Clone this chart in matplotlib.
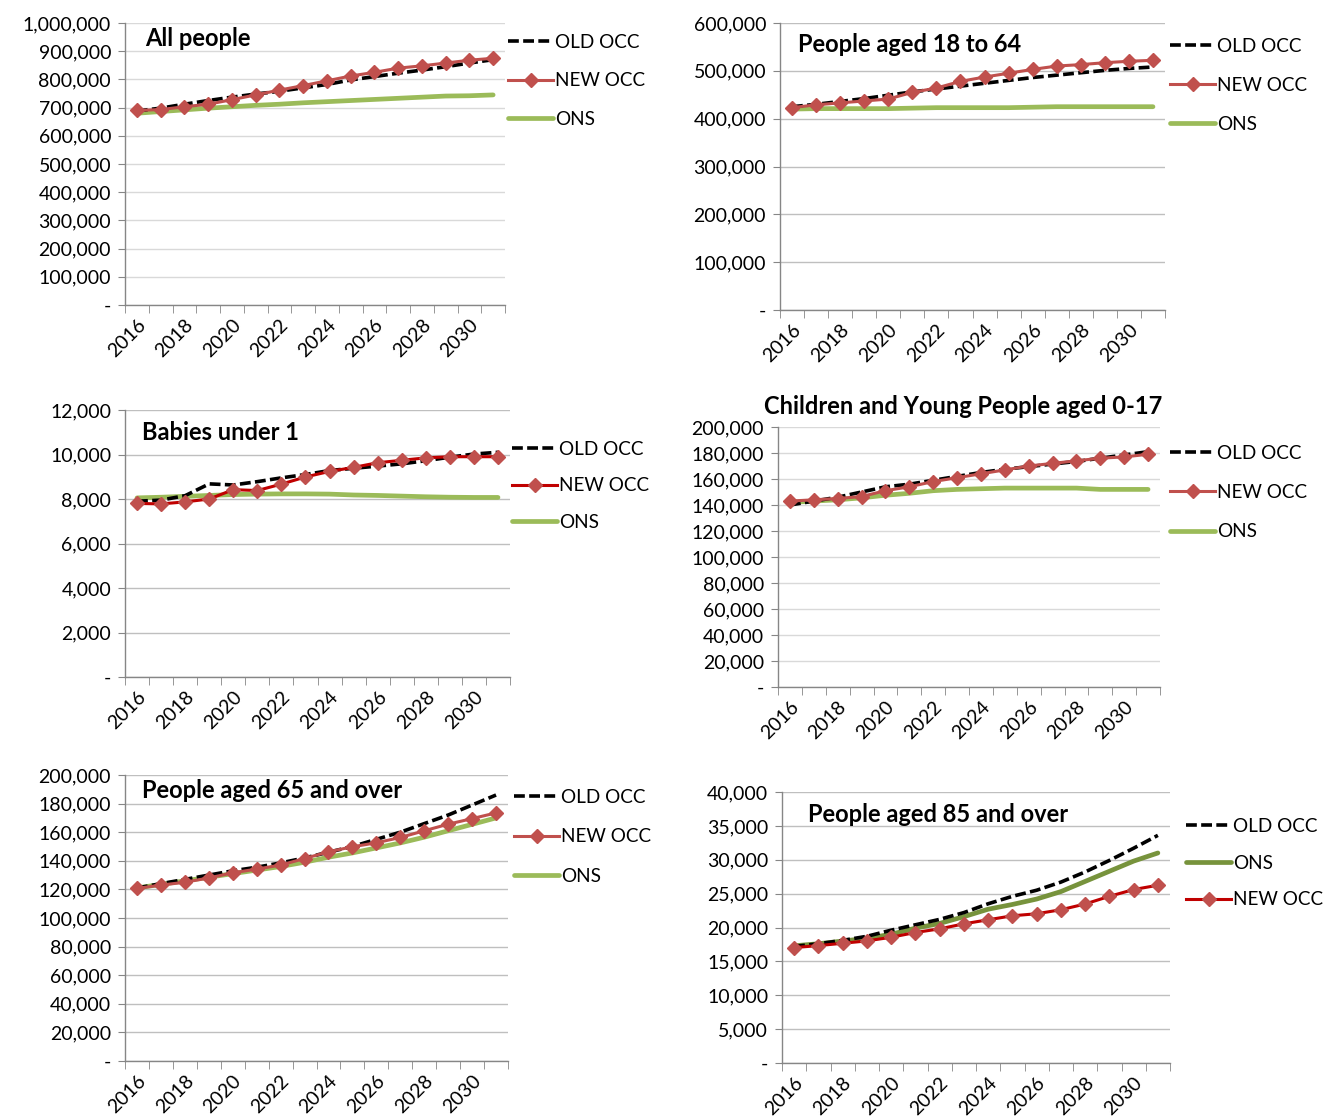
import matplotlib
matplotlib.use("Agg")
import matplotlib.pyplot as plt
from matplotlib.ticker import FuncFormatter, MultipleLocator
import numpy as np

plt.rcParams['font.family'] = ['Lato', 'DejaVu Sans']

years = list(range(2016, 2032))

# All people
all_old = [688, 698, 712, 725, 737, 748, 758, 770, 782, 798, 810, 822, 833, 845, 858, 870]
all_new = [690, 693, 703, 712, 728, 745, 762, 778, 795, 812, 825, 840, 848, 858, 868, 875]
all_ons = [680, 686, 692, 698, 703, 708, 712, 717, 721, 725, 729, 733, 737, 741, 742, 745]

# People aged 18 to 64
adult_old = [425, 430, 436, 442, 449, 456, 462, 468, 474, 480, 486, 491, 496, 501, 505, 508]
adult_new = [423, 429, 433, 437, 441, 455, 464, 478, 487, 495, 503, 510, 513, 517, 520, 522]
adult_ons = [420, 421, 421, 421, 421, 422, 423, 423, 423, 423, 424, 425, 425, 425, 425, 425]

# Babies under 1
baby_old = [7900, 7950, 8150, 8680, 8630, 8780, 8950, 9100, 9280, 9380, 9480, 9580, 9720, 9880, 10020, 10100]
baby_new = [7800, 7780, 7870, 8000, 8420, 8380, 8670, 8990, 9240, 9420, 9630, 9740, 9850, 9900, 9900, 9900]
baby_ons = [8050, 8080, 8120, 8160, 8200, 8220, 8230, 8230, 8220, 8180, 8160, 8130, 8100, 8080, 8070, 8070]

# Children and young people aged 0-17
child_old = [140, 143, 146, 150, 154, 156, 159, 162, 165, 167.5, 169.5, 171.5, 173.5, 176, 178.5, 181]
child_new = [143, 144, 145, 146.5, 151, 154, 158, 161, 164, 167, 170, 172, 174, 176, 177, 179]
child_ons = [142, 143, 144, 145.5, 147.5, 149, 151, 152, 152.5, 153, 153, 153, 153, 152, 152, 152]

# People aged 65 and over
old65_old = [121, 124, 127, 130, 133, 135.5, 138.5, 142, 146, 150, 155, 160, 166, 172, 179, 186]
old65_new = [120.7, 123, 125, 128, 131.6, 134.2, 137, 141.6, 146.3, 149.8, 152.6, 156.3, 161, 165.6, 169.5, 173.5]
old65_ons = [121, 123.5, 126, 128.5, 131, 133.5, 136, 139, 142.5, 145.5, 149, 152.5, 156.5, 161, 165.5, 170]

# People aged 85 and over
old85_old = [17200, 17600, 18100, 18700, 19600, 20400, 21200, 22200, 23500, 24600, 25500, 26700, 28200, 29900, 31700, 33600]
old85_new = [17030, 17330, 17670, 18020, 18560, 19260, 19800, 20540, 21140, 21730, 22030, 22620, 23470, 24600, 25600, 26240]
old85_ons = [17300, 17600, 18000, 18400, 19000, 19900, 20600, 21600, 22700, 23400, 24200, 25300, 26800, 28300, 29800, 31000]

W, H = 1331, 1120
fig = plt.figure(figsize=(W / 100, H / 100), dpi=100)

RED = '#C0504D'
DARKRED = '#C00000'
GREEN = '#9BBB59'
DKGREEN = '#77933C'


def px_rect(x0, y0, x1, y1):
    return [x0 / W, 1 - y1 / H, (x1 - x0) / W, (y1 - y0) / H]


def yfmt(v, pos):
    return '-' if abs(v) < 1e-9 else f'{v:,.0f}'


def panel(rect, series, ymax, ystep, scale, title, title_xy, leg_xy, leg_space,
          grid='#BFBFBF', new_line=RED, ons_col=GREEN, title_center=False):
    ax = fig.add_axes(px_rect(*rect))
    x = np.arange(len(years))
    handles = {}
    for name, vals in series:
        v = np.array(vals) * scale
        if name == 'OLD OCC':
            h, = ax.plot(x, v, color='black', lw=2.6, ls=(0, (3.0, 1.2)), zorder=3)
        elif name == 'NEW OCC':
            h, = ax.plot(x, v, color=new_line, lw=2.2, marker='D', ms=7,
                         mfc=RED, mec=RED, zorder=4)
        else:
            h, = ax.plot(x, v, color=ons_col, lw=3.4, solid_capstyle='round', zorder=2)
        handles[name] = h
    ax.set_xlim(-0.5, len(years) - 0.5)
    ax.set_ylim(0, ymax)
    ax.yaxis.set_major_locator(MultipleLocator(ystep))
    ax.yaxis.set_major_formatter(FuncFormatter(yfmt))
    ax.grid(axis='y', color=grid, lw=1.0)
    ax.set_axisbelow(True)
    for s in ('top', 'right'):
        ax.spines[s].set_visible(False)
    for s in ('left', 'bottom'):
        ax.spines[s].set_color('#868686')
        ax.spines[s].set_linewidth(1.0)
    ax.set_xticks(x[::2])
    ax.set_xticklabels([str(y) for y in years[::2]], rotation=45, ha='right',
                       va='top', rotation_mode='anchor', fontsize=14)
    ax.set_xticks(np.arange(-0.5, len(years), 1), minor=True)
    ax.tick_params(axis='x', which='major', length=0, pad=8)
    ax.tick_params(axis='x', which='minor', length=6, color='#868686')
    ax.tick_params(axis='y', length=5, color='#868686', labelsize=14, pad=5)

    tx, ty = title_xy
    fig.text(tx / W, 1 - ty / H, title, fontsize=17, fontweight='bold',
             ha='center' if title_center else 'left', va='center')

    lx, ly = leg_xy
    names = [n for n, _ in series]
    ax.legend([handles[n] for n in names], names, loc='upper left',
              bbox_to_anchor=(lx / W, 1 - ly / H), bbox_transform=fig.transFigure,
              frameon=False, fontsize=13.6, handlelength=2.4, handletextpad=0.1,
              labelspacing=leg_space, borderpad=0, borderaxespad=0)
    return ax


panel((125, 23, 505, 305),
      [('OLD OCC', all_old), ('NEW OCC', all_new), ('ONS', all_ons)],
      1000000, 100000, 1000, 'All people', (145, 39), (508, 34), 1.13, grid='#D9D9D9')

panel((780, 23, 1165, 310),
      [('OLD OCC', adult_old), ('NEW OCC', adult_new), ('ONS', adult_ons)],
      600000, 100000, 1000, 'People aged 18 to 64', (798, 45), (1170, 38), 1.16)

panel((125, 410, 510, 677),
      [('OLD OCC', baby_old), ('NEW OCC', baby_new), ('ONS', baby_ons)],
      12000, 2000, 1, 'Babies under 1', (142, 432), (512, 441), 1.02,
      new_line=DARKRED)

panel((778, 427, 1160, 687),
      [('OLD OCC', child_old), ('NEW OCC', child_new), ('ONS', child_ons)],
      200000, 20000, 1000, 'Children and Young People aged 0-17', (963, 407),
      (1170, 445), 1.17, grid='#D9D9D9', title_center=True)

panel((125, 775, 508, 1061),
      [('OLD OCC', old65_old), ('NEW OCC', old65_new), ('ONS', old65_ons)],
      200000, 20000, 1000, 'People aged 65 and over', (142, 790), (514, 789), 1.19)

panel((782, 792, 1170, 1063),
      [('OLD OCC', old85_old), ('ONS', old85_ons), ('NEW OCC', old85_new)],
      40000, 5000, 1, 'People aged 85 and over', (808, 814), (1186, 818), 1.04,
      new_line=DARKRED, ons_col=DKGREEN)

fig.savefig('out.png', dpi=100)
